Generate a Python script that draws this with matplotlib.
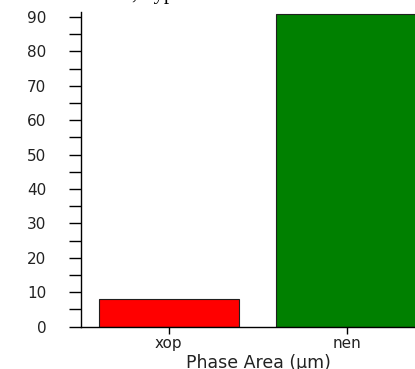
import matplotlib
matplotlib.use("Agg")
import matplotlib.pyplot as plt

# data
phases = ["xop", "nen"]
areas = [8, 91]
bar_colors = ["#ff0000", "#008000"]
yticks_major = [0, 10, 20, 30, 40, 50, 60, 70, 80, 90]
yticks_minor = [5, 15, 25, 35, 45, 55, 65, 75, 85]

plt.rcParams["font.family"] = ["DejaVu Sans"]

fig = plt.figure(figsize=(4.15, 3.69), dpi=100)
ax = fig.add_axes([0.195, 0.115, 0.855, 0.853])

ax.bar(phases, areas, width=0.79, color=bar_colors,
       edgecolor="#202020", linewidth=0.8, zorder=2)

ax.set_xlim(-0.494, 1.5)
ax.set_ylim(0, 91.5)
ax.set_yticks(yticks_major)
ax.set_yticks(yticks_minor, minor=True)

for side in ("top", "right"):
    ax.spines[side].set_visible(False)
ax.spines["left"].set_linewidth(1.0)
ax.spines["bottom"].set_linewidth(1.0)

ax.tick_params(axis="y", which="both", length=9, width=1.0, pad=16,
               labelsize=11, labelcolor="#222222")
ax.tick_params(axis="x", length=5, width=1.0, pad=2,
               labelsize=11, labelcolor="#222222")
ax.set_xlabel("Phase Area (µm)", fontsize=12.5, labelpad=2, color="#222222")

# caption fragment cut off at the top edge
fig.text(0.33, 1.004, "Phase, Types", family=["Liberation Serif", "DejaVu Serif"],
         fontsize=15, ha="center", va="baseline")

fig.savefig("out.png", dpi=100)
